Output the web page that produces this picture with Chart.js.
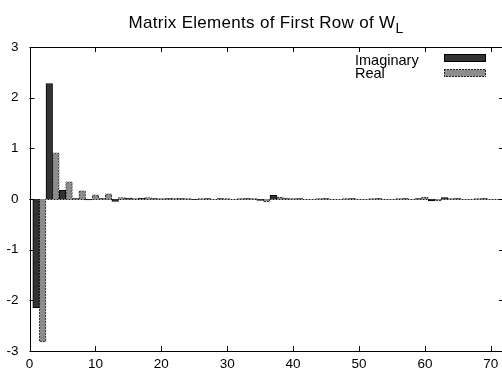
<!DOCTYPE html>
<html>
<head>
<meta charset="utf-8">
<script src="https://cdn.jsdelivr.net/npm/chart.js@4.4.1/dist/chart.umd.min.js"></script>
<style>
  body { margin: 0; background: #fff; }
  #wrap { position: relative; width: 502px; height: 373px; overflow: hidden; }
  #title { position: absolute; left: 30px; width: 472px; top: 13px; text-align: center;
           font: 17px "Liberation Sans", Arial, sans-serif; letter-spacing: 0.3px; color: #000; }
  #title sub { font-size: 14px; vertical-align: -5px; line-height: 0; }
</style>
</head>
<body>
<div id="wrap">
  <canvas id="myChart" width="505" height="373"></canvas>
  <div id="title">Matrix Elements of First Row of W<sub>L</sub></div>
</div>
<script>
// element n -> imaginary bar at x = 2n-1, real bar at x = 2n
var imag_values = [-2.15, 2.28, 0.17, 0.01, -0.02, 0.01, -0.05, 0.02, 0.02, 0.01,
                   0.01, 0.01, -0.01, 0.01, 0.01, 0.00, 0.01, -0.03, 0.07, 0.01,
                   0.01, 0.00, 0.01, 0.00, 0.01, 0.00, 0.01, 0.00, 0.01, 0.01,
                   -0.04, 0.03, 0.01, 0.00, 0.01];
var real_values = [-2.82, 0.91, 0.34, 0.16, 0.08, 0.10, 0.03, 0.01, 0.03, 0.01,
                   0.02, 0.01, 0.01, 0.00, 0.01, 0.01, 0.01, -0.06, 0.04, 0.01,
                   0.00, 0.01, 0.00, 0.01, 0.00, 0.01, 0.00, 0.01, 0.00, 0.04,
                   -0.04, 0.01, 0.00, 0.01, 0.00];
var x_ticks = [0, 10, 20, 30, 40, 50, 60, 70];
var y_ticks = [-3, -2, -1, 0, 1, 2, 3];
var series_labels = ["Imaginary", "Real"];

var FONT = '"Liberation Sans", Arial, sans-serif';

// dashed-looking border for the grey bars
function dash_pattern() {
    let c = document.createElement("canvas");
    c.width = 3; c.height = 3;
    let g = c.getContext("2d");
    g.fillStyle = "#c8c8c8";
    g.fillRect(0, 0, 3, 3);
    g.fillStyle = "#222";
    for (let i = 0; i < 3; i++) {
        for (let j = 0; j < 3; j++) {
            if ((i + j) % 3 != 2) g.fillRect(i, j, 1, 1);
        }
    }
    return g.createPattern(c, "repeat");
}
var dashed = dash_pattern();

var framePlugin = {
    id: "frame",
    beforeDatasetsDraw(chart) {
        let ctx = chart.ctx, a = chart.chartArea;
        let y0 = chart.scales.y.getPixelForValue(0);
        ctx.save();
        ctx.strokeStyle = "#222";
        ctx.lineWidth = 1;
        ctx.setLineDash([2, 1]);
        ctx.beginPath();
        ctx.moveTo(a.left, Math.round(y0) + 0.5);
        ctx.lineTo(a.right, Math.round(y0) + 0.5);
        ctx.stroke();
        ctx.restore();
    },
    afterDatasetsDraw(chart) {
        let ctx = chart.ctx, a = chart.chartArea;
        let sx = chart.scales.x, sy = chart.scales.y;
        ctx.save();
        ctx.strokeStyle = "#000";
        ctx.lineWidth = 1;
        ctx.strokeRect(Math.round(a.left) + 0.5, Math.round(a.top) + 0.5,
                       Math.round(a.right - a.left) - 1, Math.round(a.bottom - a.top));
        ctx.beginPath();
        x_ticks.forEach(v => {
            let px = Math.round(sx.getPixelForValue(v)) + 0.5;
            ctx.moveTo(px, a.bottom); ctx.lineTo(px, a.bottom - 5);
            ctx.moveTo(px, a.top); ctx.lineTo(px, a.top + 5);
        });
        y_ticks.forEach(v => {
            let py = Math.round(sy.getPixelForValue(v)) + 0.5;
            ctx.moveTo(a.left, py); ctx.lineTo(a.left + 5, py);
            ctx.moveTo(a.right, py); ctx.lineTo(a.right - 5, py);
        });
        ctx.stroke();

        // legend, top right inside the frame
        let ds = chart.data.datasets;
        let rows = [{ ty: 61, by: 54 }, { ty: 74, by: 69 }];
        ctx.font = "14.5px " + FONT;
        ctx.textBaseline = "middle";
        ctx.textAlign = "left";
        for (let i = 0; i < ds.length; i++) {
            ctx.fillStyle = "#000";
            ctx.fillText(ds[i].label, 355, rows[i].ty);
            ctx.fillStyle = ds[i].borderColor;
            ctx.fillRect(444, rows[i].by, 42, 8);
            ctx.fillStyle = ds[i].backgroundColor;
            ctx.fillRect(445, rows[i].by + 1, 40, 6);
        }
        ctx.restore();
    }
};

var ctx = document.getElementById("myChart");
var chart = new Chart(ctx, {
    type: "bar",
    data: {
        datasets: [
            {
                label: series_labels[0],
                data: imag_values.map((v, i) => ({ x: 2 * i + 1, y: v })),
                backgroundColor: "#333333",
                borderColor: "#000000",
                borderWidth: 1,
                grouped: false,
                barPercentage: 1,
                categoryPercentage: 1
            },
            {
                label: series_labels[1],
                data: real_values.map((v, i) => ({ x: 2 * i + 2, y: v })),
                backgroundColor: "#8c8c8c",
                borderColor: dashed,
                borderWidth: 1,
                grouped: false,
                barPercentage: 1,
                categoryPercentage: 1
            }
        ]
    },
    options: {
        responsive: false,
        animation: false,
        devicePixelRatio: 1,
        layout: { padding: { top: 47, right: 1, left: 0, bottom: 0 } },
        plugins: {
            legend: { display: false },
            title: { display: false },
            tooltip: { enabled: false }
        },
        scales: {
            x: {
                type: "linear",
                min: 0,
                max: 72,
                offset: false,
                afterBuildTicks: s => { s.ticks = x_ticks.map(v => ({ value: v })); },
                afterFit: s => { s.height = 22; },
                grid: { display: false, drawTicks: false },
                border: { display: false },
                ticks: { padding: 5, maxRotation: 0, color: "#000", font: { family: FONT, size: 13.5 } }
            },
            y: {
                min: -3,
                max: 3,
                afterBuildTicks: s => { s.ticks = y_ticks.map(v => ({ value: v })); },
                afterFit: s => { s.width = 29.5; },
                grid: { display: false, drawTicks: false },
                border: { display: false },
                ticks: { padding: 11, color: "#000", font: { family: FONT, size: 13.5 } }
            }
        }
    },
    plugins: [framePlugin]
});
</script>
</body>
</html>
